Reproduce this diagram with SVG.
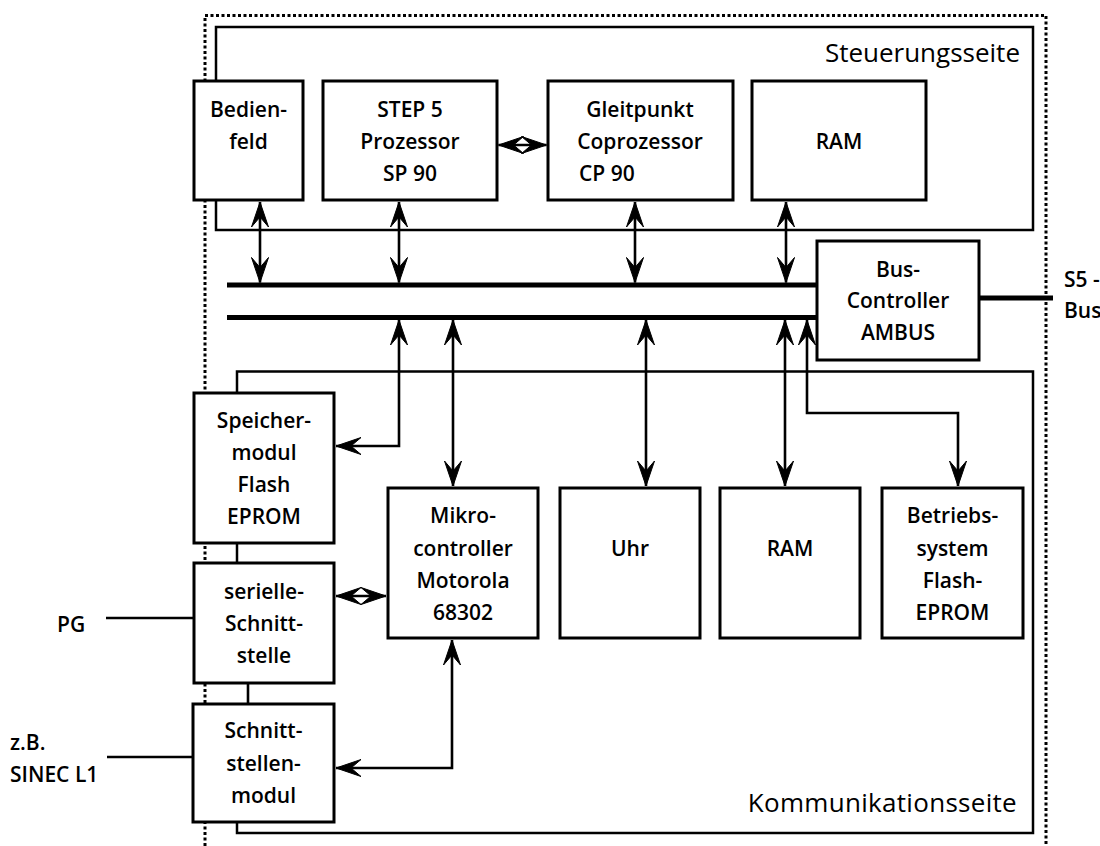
<svg xmlns="http://www.w3.org/2000/svg" width="1100" height="846" viewBox="0 0 1100 846">
  <defs>
    <style>
      .box{fill:#fff;stroke:#000;stroke-width:3}
      .frame{fill:none;stroke:#000;stroke-width:2.5}
      .dots{fill:none;stroke:#000;stroke-width:3;stroke-dasharray:3 2.5}
      .bus{fill:none;stroke:#000;stroke-width:5}
      .wire{fill:none;stroke:#000;stroke-width:2.6}
      .both{marker-start:url(#ah);marker-end:url(#ah)}
      .lbl{font-family:"Open Sans","Noto Sans",sans-serif;font-size:21px;font-weight:600;text-anchor:middle;fill:#000}
      .side{font-family:"Open Sans","Noto Sans",sans-serif;font-size:26px;font-weight:500;text-anchor:end;fill:#000}
      .ext{font-family:"Open Sans","Noto Sans",sans-serif;font-size:21px;font-weight:600;text-anchor:start;fill:#000}
    </style>
    <!-- barbed arrowhead, tip at the path end -->
    <marker id="ah" viewBox="-26 -10 28 20" refX="0" refY="0" markerWidth="28" markerHeight="20" markerUnits="userSpaceOnUse" orient="auto-start-reverse">
      <path d="M0,0 L-25,-8.5 L-15,0 L-25,8.5 Z" fill="#000" stroke="#000" stroke-width="1" stroke-linejoin="miter"/>
    </marker>
  </defs>
  <rect width="1100" height="846" fill="#fff"/>

  <!-- module boundary (dotted) -->
  <path class="dots" d="M205,846 V15.5 H1046 V846"/>

  <!-- control side frame -->
  <g id="steuerungsseite">
    <rect class="frame" x="216" y="27" width="817" height="203"/>
    <text class="side" x="1020" y="62">Steuerungsseite</text>
  </g>

  <!-- communication side frame -->
  <g id="kommunikationsseite">
    <path class="frame" d="M237,393 V371.5 H1033 V833 H237 V822"/>
    <path class="frame" d="M237,543 V563"/>
    <text class="side" x="1017" y="812" style="letter-spacing:0.3px">Kommunikationsseite</text>
  </g>

  <!-- connectors -->
  <g id="connectors">
    <!-- internal buses -->
    <path class="bus" d="M227,285 H817"/>
    <path class="bus" d="M227,317.5 H817"/>
    <!-- S5 backplane bus -->
    <path class="bus" d="M979,298 H1053"/>

    <!-- control side to upper bus -->
    <path class="wire both" d="M260,202 V282.5"/>
    <path class="wire both" d="M399,202 V282.5"/>
    <path class="wire both" d="M635,202 V282.5"/>
    <path class="wire both" d="M786,202 V282.5"/>
    <path class="wire both" d="M498.5,145 H546.5"/>

    <!-- lower bus to communication side -->
    <path class="wire both" d="M399,320 V446 H336"/>
    <path class="wire both" d="M453,320 V486"/>
    <path class="wire both" d="M646,320 V486"/>
    <path class="wire both" d="M785,320 V486"/>
    <path class="wire both" d="M807,320 V413 H958 V486"/>

    <!-- microcontroller to interfaces -->
    <path class="wire both" d="M336,596 H386"/>
    <path class="wire both" d="M452,640 V768 H336"/>
    <path class="wire" d="M248,683 V704"/>

    <!-- external lines -->
    <path class="wire" d="M106,618 H194"/>
    <path class="wire" d="M107,757 H193"/>
  </g>

  <!-- control side modules -->
  <g id="bedienfeld">
    <rect class="box" x="194" y="81" width="109" height="119"/>
    <text class="lbl"><tspan x="248.5" y="117">Bedien-</tspan><tspan x="248.5" y="149">feld</tspan></text>
  </g>
  <g id="step5">
    <rect class="box" x="323" y="81" width="174" height="119"/>
    <text class="lbl"><tspan x="410" y="117">STEP 5</tspan><tspan x="410" y="149">Prozessor</tspan><tspan x="410" y="181">SP 90</tspan></text>
  </g>
  <g id="gleitpunkt">
    <rect class="box" x="548" y="81" width="185" height="119"/>
    <text class="lbl"><tspan x="640" y="117">Gleitpunkt</tspan><tspan x="640" y="149">Coprozessor</tspan></text>
    <text class="ext" x="579" y="181">CP 90</text>
  </g>
  <g id="ram-steuerung">
    <rect class="box" x="752" y="81" width="174" height="119"/>
    <text class="lbl" x="839" y="149">RAM</text>
  </g>

  <g id="buscontroller">
    <rect class="box" x="817" y="241" width="162" height="119"/>
    <text class="lbl"><tspan x="898" y="277">Bus-</tspan><tspan x="898" y="308">Controller</tspan><tspan x="898" y="340">AMBUS</tspan></text>
  </g>

  <!-- communication side modules -->
  <g id="speichermodul">
    <rect class="box" x="194" y="393" width="140" height="150"/>
    <text class="lbl"><tspan x="264" y="428">Speicher-</tspan><tspan x="264" y="460">modul</tspan><tspan x="264" y="492">Flash</tspan><tspan x="264" y="524">EPROM</tspan></text>
  </g>
  <g id="seriell">
    <rect class="box" x="194" y="563" width="140" height="120"/>
    <text class="lbl"><tspan x="264" y="599">serielle-</tspan><tspan x="264" y="631">Schnitt-</tspan><tspan x="264" y="663">stelle</tspan></text>
  </g>
  <g id="schnittstellenmodul">
    <rect class="box" x="193" y="704" width="141" height="118"/>
    <text class="lbl"><tspan x="263.5" y="738">Schnitt-</tspan><tspan x="263.5" y="771">stellen-</tspan><tspan x="263.5" y="803">modul</tspan></text>
  </g>
  <g id="mikrocontroller">
    <rect class="box" x="388" y="488" width="150" height="150"/>
    <text class="lbl"><tspan x="463" y="523">Mikro-</tspan><tspan x="463" y="556">controller</tspan><tspan x="463" y="588">Motorola</tspan><tspan x="463" y="620">68302</tspan></text>
  </g>
  <g id="uhr">
    <rect class="box" x="560" y="488" width="140" height="150"/>
    <text class="lbl" x="630" y="556">Uhr</text>
  </g>
  <g id="ram-kommunikation">
    <rect class="box" x="720" y="488" width="140" height="150"/>
    <text class="lbl" x="790" y="556">RAM</text>
  </g>
  <g id="betriebssystem">
    <rect class="box" x="882" y="488" width="141" height="150"/>
    <text class="lbl"><tspan x="952.5" y="523">Betriebs-</tspan><tspan x="952.5" y="556">system</tspan><tspan x="952.5" y="588">Flash-</tspan><tspan x="952.5" y="620">EPROM</tspan></text>
  </g>

  <!-- external labels -->
  <g id="labels">
    <text class="ext" x="1064" y="287">S5 -</text>
    <text class="ext" x="1064" y="318">Bus</text>
    <text class="ext" x="57" y="632">PG</text>
    <text class="ext" x="10" y="750">z.B.</text>
    <text class="ext" x="10" y="782">SINEC L1</text>
  </g>
</svg>
